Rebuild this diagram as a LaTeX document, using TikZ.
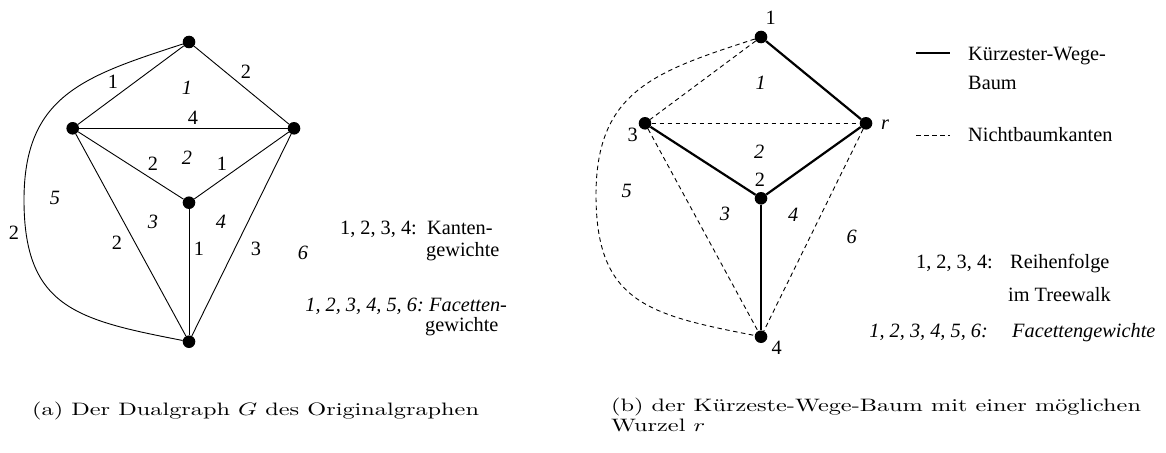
\documentclass[tikz,border=0pt]{standalone}
\usepackage{fontspec}
\newfontfamily\tms{Liberation Serif}
% captions: Latin Modern 10pt, widened
\newcommand{\captionbox}[1]{\scalebox{2.43}[1.8]{#1}}
\begin{document}
\begin{tikzpicture}[x=1pt,y=-1pt,
  vertex/.style={circle,fill=black,inner sep=0pt,minimum size=12.6pt},
  thin edge/.style={line width=0.9pt},
  tree edge/.style={line width=2.2pt},
  non tree/.style={line width=0.9pt,dash pattern=on 4.5pt off 3.5pt},
  lbl/.style={inner sep=0pt,font=\tms\fontsize{20.3}{24}\selectfont},
  face/.style={lbl,font=\tms\itshape\fontsize{20.3}{24}\selectfont},
  captext/.style={inner sep=0pt,anchor=base west,font=\normalsize}]
\useasboundingbox (0,0) rectangle (1166,452);

% ---------- (a) dual graph with edge and face weights ----------
\node[vertex] (at) at (189,42) {};
\node[vertex] (al) at (72.7,128.3) {};
\node[vertex] (ar) at (294,128.3) {};
\node[vertex] (ac) at (189,202.7) {};
\node[vertex] (ab) at (189,341.7) {};
\coordinate (aw) at (24,200);

\draw[thin edge] (at) -- (al);
\draw[thin edge] (at) -- (ar);
\draw[thin edge] (al) -- (ar);
\draw[thin edge] (al) -- (ac);
\draw[thin edge] (ar) -- (ac);
\draw[thin edge] (al) -- (ab);
\draw[thin edge] (ac) -- (ab);
\draw[thin edge] (ar) -- (ab);
\draw[thin edge] (at) to[out=198,in=90,looseness=1.2] (aw)
                      to[out=270,in=169,looseness=1.3] (ab);

\node[lbl] (ea1) at (113,82) {1};
\node[lbl] (ea2) at (246,72) {2};
\node[lbl] (ea3) at (193,118) {4};
\node[lbl] (ea4) at (153,164) {2};
\node[lbl] (ea5) at (222,164) {1};
\node[lbl] (ea6) at (14,233) {2};
\node[lbl] (ea7) at (117,243) {2};
\node[lbl] (ea8) at (199,249) {1};
\node[lbl] (ea9) at (256,249) {3};

\node[face] (fa1) at (187,88) {1};
\node[face] (fa2) at (187,158) {2};
\node[face] (fa3) at (153,222) {3};
\node[face] (fa4) at (221,222) {4};
\node[face] (fa5) at (55,198) {5};
\node[face] (fa6) at (303,253) {6};

\node[lbl,anchor=base east] (ka) at (417,234) {1, 2, 3, 4:};
\node[lbl,anchor=base west] (kb) at (427,234) {Kanten-};
\node[lbl,anchor=base west] (kc) at (426,256.5) {gewichte};
\node[face,anchor=base east] (fka) at (424,311.5) {1, 2, 3, 4, 5, 6:};
\node[face,anchor=base west] (fkb) at (429,311.5) {Facetten-};
\node[lbl,anchor=base west] (fkc) at (425,331.5) {gewichte};

\node[captext] (capa) at (32,415.5)
  {\captionbox{(a) Der Dualgraph $G$ des Originalgraphen}};

% ---------- (b) shortest path tree rooted at r ----------
\node[vertex] (b1) at (761,37) {};
\node[vertex] (b3) at (645,123.3) {};
\node[vertex] (br) at (866,123.3) {};
\node[vertex] (b2) at (761,198.3) {};
\node[vertex] (b4) at (761,336.7) {};
\coordinate (bw) at (596,195);

\draw[tree edge] (b1) -- (br);
\draw[tree edge] (br) -- (b2);
\draw[tree edge] (b3) -- (b2);
\draw[tree edge] (b2) -- (b4);
\draw[non tree] (b1) -- (b3);
\draw[non tree] (b3) -- (br);
\draw[non tree] (b3) -- (b4);
\draw[non tree] (br) -- (b4);
\draw[non tree] (b1) to[out=198,in=90,looseness=1.2] (bw)
                     to[out=270,in=169,looseness=1.3] (b4);

\node[lbl] (n1) at (770.7,18.3) {1};
\node[lbl] (n3) at (632.7,135) {3};
\node[lbl] (n2) at (760,180) {2};
\node[lbl] (n4) at (776.7,348.3) {4};
\node[face] (nr) at (885,125) {r};

\node[face] (fb1) at (760.7,82.7) {1};
\node[face] (fb2) at (759.3,151.7) {2};
\node[face] (fb3) at (725,214.3) {3};
\node[face] (fb4) at (793.3,215) {4};
\node[face] (fb5) at (626.7,191) {5};
\node[face] (fb6) at (851.7,237.3) {6};

\coordinate (ls1) at (916,53.3);
\coordinate (ls2) at (950,53.3);
\coordinate (ld1) at (916,135);
\coordinate (ld2) at (950,135);
\draw[tree edge,line width=2pt] (ls1) -- (ls2);
\draw[non tree] (ld1) -- (ld2);
\node[lbl,anchor=base west] (lt1) at (968,60) {Kürzester-Wege-};
\node[lbl,anchor=base west] (lt2) at (968,89.3) {Baum};
\node[lbl,anchor=base west] (lt3) at (968,141.7) {Nichtbaumkanten};

\node[lbl,anchor=base east] (ra) at (993,268.3) {1, 2, 3, 4:};
\node[lbl,anchor=base west] (rb) at (1010,268.3) {Reihenfolge};
\node[lbl,anchor=base west] (rc) at (1008,301.7) {im Treewalk};
\node[face,anchor=base east] (rfa) at (988,337.3) {1, 2, 3, 4, 5, 6:};
\node[face,anchor=base west] (rfb) at (1012,337.3) {Facettengewichte};

\node[captext] (capb1) at (611,411.7)
  {\captionbox{(b) der Kürzeste-Wege-Baum mit einer möglichen}};
\node[captext] (capb2) at (611,431.7)
  {\captionbox{Wurzel $r$}};
\end{tikzpicture}
\end{document}
